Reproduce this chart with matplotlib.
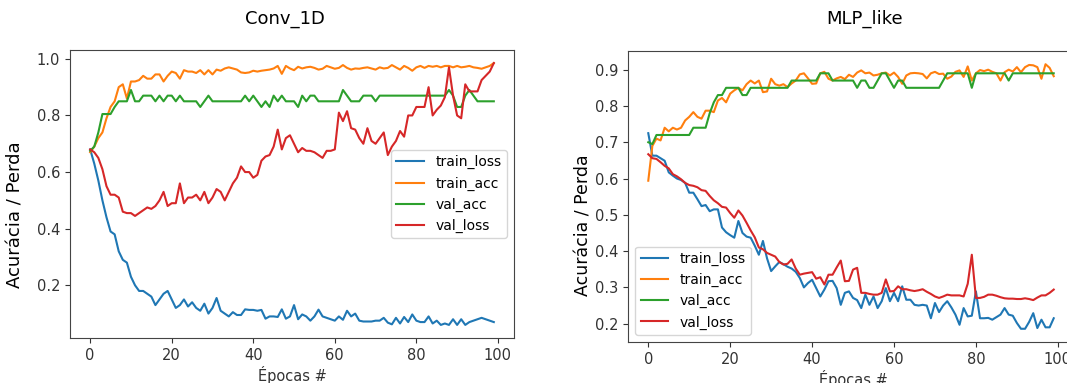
import numpy as np
import matplotlib
matplotlib.use("Agg")
import matplotlib.pyplot as plt

plt.rcParams['font.family'] = ['Liberation Sans Narrow', 'DejaVu Sans']

epocas = np.arange(100)

# ---- Conv_1D ----
conv_train_loss = [0.68, 0.63, 0.57, 0.50, 0.44, 0.39, 0.38, 0.32, 0.29, 0.28,
                   0.23, 0.20, 0.18, 0.18, 0.17, 0.16, 0.13, 0.15, 0.17, 0.18,
                   0.15, 0.12, 0.13, 0.15, 0.125, 0.14, 0.12, 0.11, 0.135, 0.10,
                   0.12, 0.155, 0.11, 0.10, 0.09, 0.105, 0.095, 0.095, 0.115, 0.113,
                   0.113, 0.11, 0.113, 0.082, 0.09, 0.09, 0.088, 0.115, 0.082, 0.09,
                   0.13, 0.08, 0.097, 0.09, 0.075, 0.09, 0.114, 0.09, 0.085, 0.08,
                   0.075, 0.09, 0.078, 0.11, 0.09, 0.10, 0.075, 0.072, 0.072, 0.072,
                   0.075, 0.075, 0.085, 0.068, 0.062, 0.085, 0.065, 0.088, 0.07, 0.097,
                   0.075, 0.07, 0.07, 0.09, 0.065, 0.075, 0.06, 0.065, 0.06, 0.08,
                   0.06, 0.08, 0.06, 0.07, 0.075, 0.08, 0.085, 0.08, 0.075, 0.07]
conv_train_acc = [0.67, 0.69, 0.72, 0.74, 0.79, 0.83, 0.85, 0.90, 0.91, 0.86,
                  0.92, 0.92, 0.925, 0.94, 0.93, 0.93, 0.945, 0.945, 0.92, 0.94,
                  0.955, 0.95, 0.93, 0.96, 0.955, 0.955, 0.95, 0.96, 0.945, 0.96,
                  0.945, 0.962, 0.958, 0.966, 0.97, 0.966, 0.962, 0.952, 0.95, 0.952,
                  0.958, 0.955, 0.958, 0.96, 0.962, 0.966, 0.975, 0.947, 0.975, 0.966,
                  0.96, 0.972, 0.966, 0.97, 0.972, 0.968, 0.962, 0.965, 0.975, 0.97,
                  0.965, 0.968, 0.978, 0.968, 0.962, 0.966, 0.965, 0.968, 0.97, 0.966,
                  0.962, 0.97, 0.966, 0.968, 0.978, 0.97, 0.962, 0.975, 0.968, 0.958,
                  0.97, 0.975, 0.968, 0.975, 0.972, 0.975, 0.97, 0.975, 0.975, 0.97,
                  0.975, 0.97, 0.972, 0.975, 0.97, 0.968, 0.965, 0.97, 0.975, 0.985]
conv_val_acc = [0.675, 0.69, 0.74, 0.805, 0.805, 0.805, 0.83, 0.85, 0.85, 0.85,
                0.89, 0.85, 0.85, 0.87, 0.87, 0.87, 0.85, 0.87, 0.85, 0.87,
                0.87, 0.85, 0.87, 0.85, 0.85, 0.85, 0.85, 0.83, 0.85, 0.87,
                0.85, 0.85, 0.85, 0.85, 0.85, 0.85, 0.85, 0.85, 0.87, 0.85,
                0.87, 0.85, 0.83, 0.85, 0.83, 0.87, 0.85, 0.87, 0.85, 0.85,
                0.85, 0.83, 0.87, 0.85, 0.87, 0.87, 0.85, 0.85, 0.85, 0.85,
                0.85, 0.85, 0.89, 0.87, 0.85, 0.85, 0.85, 0.87, 0.87, 0.87,
                0.85, 0.87, 0.87, 0.87, 0.87, 0.87, 0.87, 0.87, 0.87, 0.87,
                0.87, 0.87, 0.87, 0.87, 0.87, 0.87, 0.87, 0.87, 0.89, 0.87,
                0.83, 0.83, 0.87, 0.89, 0.87, 0.85, 0.85, 0.85, 0.85, 0.85]
conv_val_loss = [0.68, 0.67, 0.65, 0.61, 0.55, 0.52, 0.52, 0.51, 0.46, 0.455,
                 0.455, 0.445, 0.455, 0.465, 0.475, 0.47, 0.48, 0.50, 0.53, 0.48,
                 0.49, 0.49, 0.56, 0.49, 0.51, 0.51, 0.52, 0.50, 0.53, 0.49,
                 0.51, 0.54, 0.53, 0.50, 0.53, 0.56, 0.58, 0.62, 0.60, 0.60,
                 0.58, 0.59, 0.64, 0.655, 0.66, 0.69, 0.75, 0.68, 0.72, 0.73,
                 0.70, 0.67, 0.685, 0.675, 0.675, 0.67, 0.66, 0.65, 0.675, 0.675,
                 0.68, 0.81, 0.78, 0.815, 0.755, 0.75, 0.72, 0.70, 0.755, 0.71,
                 0.70, 0.72, 0.74, 0.66, 0.69, 0.71, 0.745, 0.725, 0.80, 0.80,
                 0.83, 0.83, 0.83, 0.90, 0.80, 0.82, 0.835, 0.865, 0.97, 0.87,
                 0.80, 0.79, 0.91, 0.885, 0.885, 0.885, 0.925, 0.94, 0.955, 0.985]

# ---- MLP_like ----
mlp_train_loss = [0.725, 0.663, 0.663, 0.656, 0.649, 0.617, 0.608, 0.60, 0.596, 0.588,
                  0.561, 0.561, 0.543, 0.524, 0.527, 0.51, 0.515, 0.515, 0.465, 0.452,
                  0.444, 0.437, 0.483, 0.45, 0.44, 0.437, 0.415, 0.39, 0.428, 0.38,
                  0.345, 0.358, 0.37, 0.364, 0.357, 0.352, 0.343, 0.326, 0.30, 0.312,
                  0.321, 0.298, 0.275, 0.294, 0.317, 0.318, 0.298, 0.252, 0.285, 0.289,
                  0.271, 0.265, 0.243, 0.28, 0.252, 0.275, 0.243, 0.262, 0.298, 0.262,
                  0.285, 0.262, 0.303, 0.266, 0.266, 0.252, 0.25, 0.252, 0.25, 0.215,
                  0.257, 0.232, 0.25, 0.262, 0.245, 0.225, 0.197, 0.243, 0.22, 0.222,
                  0.289, 0.215, 0.215, 0.216, 0.211, 0.218, 0.225, 0.243, 0.225, 0.222,
                  0.202, 0.186, 0.186, 0.205, 0.229, 0.188, 0.211, 0.19, 0.19, 0.215]
mlp_train_acc = [0.594, 0.69, 0.71, 0.705, 0.74, 0.73, 0.74, 0.735, 0.74, 0.76,
                 0.77, 0.783, 0.77, 0.765, 0.787, 0.787, 0.783, 0.815, 0.822, 0.81,
                 0.834, 0.843, 0.85, 0.843, 0.86, 0.87, 0.862, 0.87, 0.838, 0.84,
                 0.875, 0.86, 0.856, 0.86, 0.852, 0.862, 0.87, 0.887, 0.89, 0.876,
                 0.861, 0.862, 0.89, 0.894, 0.875, 0.87, 0.876, 0.88, 0.874, 0.886,
                 0.88, 0.892, 0.898, 0.89, 0.892, 0.884, 0.886, 0.89, 0.892, 0.884,
                 0.892, 0.88, 0.861, 0.884, 0.89, 0.891, 0.89, 0.888, 0.876, 0.89,
                 0.894, 0.888, 0.889, 0.875, 0.881, 0.894, 0.898, 0.88, 0.909, 0.87,
                 0.89, 0.899, 0.896, 0.90, 0.894, 0.89, 0.87, 0.893, 0.90, 0.895,
                 0.907, 0.893, 0.907, 0.913, 0.912, 0.907, 0.875, 0.915, 0.905, 0.882]
mlp_val_acc = [0.70, 0.695, 0.72, 0.72, 0.72, 0.72, 0.72, 0.72, 0.72, 0.72,
               0.72, 0.74, 0.74, 0.74, 0.74, 0.78, 0.81, 0.83, 0.83, 0.85,
               0.85, 0.85, 0.85, 0.83, 0.83, 0.85, 0.85, 0.85, 0.85, 0.85,
               0.85, 0.85, 0.85, 0.85, 0.85, 0.87, 0.87, 0.87, 0.87, 0.87,
               0.87, 0.87, 0.89, 0.89, 0.89, 0.87, 0.87, 0.87, 0.87, 0.87,
               0.87, 0.85, 0.87, 0.87, 0.85, 0.85, 0.87, 0.89, 0.89, 0.87,
               0.85, 0.87, 0.87, 0.85, 0.85, 0.85, 0.85, 0.85, 0.85, 0.85,
               0.85, 0.85, 0.87, 0.89, 0.89, 0.89, 0.89, 0.89, 0.89, 0.85,
               0.89, 0.89, 0.89, 0.89, 0.89, 0.89, 0.89, 0.89, 0.87, 0.89,
               0.89, 0.89, 0.89, 0.89, 0.89, 0.89, 0.89, 0.89, 0.89, 0.89]
mlp_val_loss = [0.667, 0.656, 0.654, 0.645, 0.635, 0.628, 0.612, 0.606, 0.598, 0.588,
                0.582, 0.58, 0.576, 0.568, 0.566, 0.552, 0.54, 0.532, 0.522, 0.52,
                0.505, 0.492, 0.512, 0.498, 0.478, 0.457, 0.438, 0.41, 0.405, 0.395,
                0.39, 0.385, 0.37, 0.363, 0.365, 0.377, 0.352, 0.335, 0.338, 0.34,
                0.342, 0.324, 0.328, 0.308, 0.335, 0.335, 0.355, 0.374, 0.317, 0.318,
                0.349, 0.354, 0.285, 0.285, 0.282, 0.28, 0.28, 0.285, 0.322, 0.289,
                0.29, 0.303, 0.295, 0.295, 0.292, 0.29, 0.292, 0.295, 0.288, 0.282,
                0.275, 0.271, 0.275, 0.28, 0.278, 0.278, 0.278, 0.275, 0.31, 0.39,
                0.271, 0.271, 0.274, 0.28, 0.28, 0.277, 0.273, 0.27, 0.269, 0.269,
                0.268, 0.268, 0.27, 0.268, 0.265, 0.272, 0.278, 0.278, 0.285, 0.294]

W, H = 1067, 383
fig = plt.figure(figsize=(W / 100, H / 100), dpi=100)


def caixa(x0, y_top, x1, y_bot):
    return [x0 / W, 1 - y_bot / H, (x1 - x0) / W, (y_bot - y_top) / H]


def desenhar(ax, tl, ta, va, vl, loc):
    ax.plot(epocas, tl, label='train_loss', lw=1.5)
    ax.plot(epocas, ta, label='train_acc', lw=1.5)
    ax.plot(epocas, va, label='val_acc', lw=1.5)
    ax.plot(epocas, vl, label='val_loss', lw=1.5)
    ax.set_xticks([0, 20, 40, 60, 80, 100])
    ax.tick_params(labelsize=10.5, colors='#333333')
    for s in ax.spines.values():
        s.set_color('#444444')
    ax.legend(loc=loc, fontsize=10)


ax1 = fig.add_axes(caixa(70, 50, 514, 338))
desenhar(ax1, conv_train_loss, conv_train_acc, conv_val_acc, conv_val_loss, 'center right')
ax2 = fig.add_axes(caixa(628, 51, 1074, 342))
desenhar(ax2, mlp_train_loss, mlp_train_acc, mlp_val_acc, mlp_val_loss, 'lower left')
ax2.set_yticks([0.2, 0.3, 0.4, 0.5, 0.6, 0.7, 0.8, 0.9])

# titulos e rotulos
fig.text(285 / W, 1 - 19 / H, 'Conv_1D', ha='center', va='center', fontsize=13)
fig.text(865 / W, 1 - 19 / H, 'MLP_like', ha='center', va='center', fontsize=13)
fig.text(16 / W, 1 - 215 / H, 'Acurácia / Perda', rotation=90, ha='center', va='center', fontsize=13)
fig.text(584 / W, 1 - 225 / H, 'Acurácia / Perda', rotation=90, ha='center', va='center', fontsize=12.5)
fig.text(292 / W, 1 - 375 / H, 'Épocas #', ha='center', va='center', fontsize=10.5, color='#333333')
fig.text(853 / W, 1 - 379 / H, 'Épocas #', ha='center', va='center', fontsize=10.5, color='#333333')

fig.savefig('out.png', dpi=100)
